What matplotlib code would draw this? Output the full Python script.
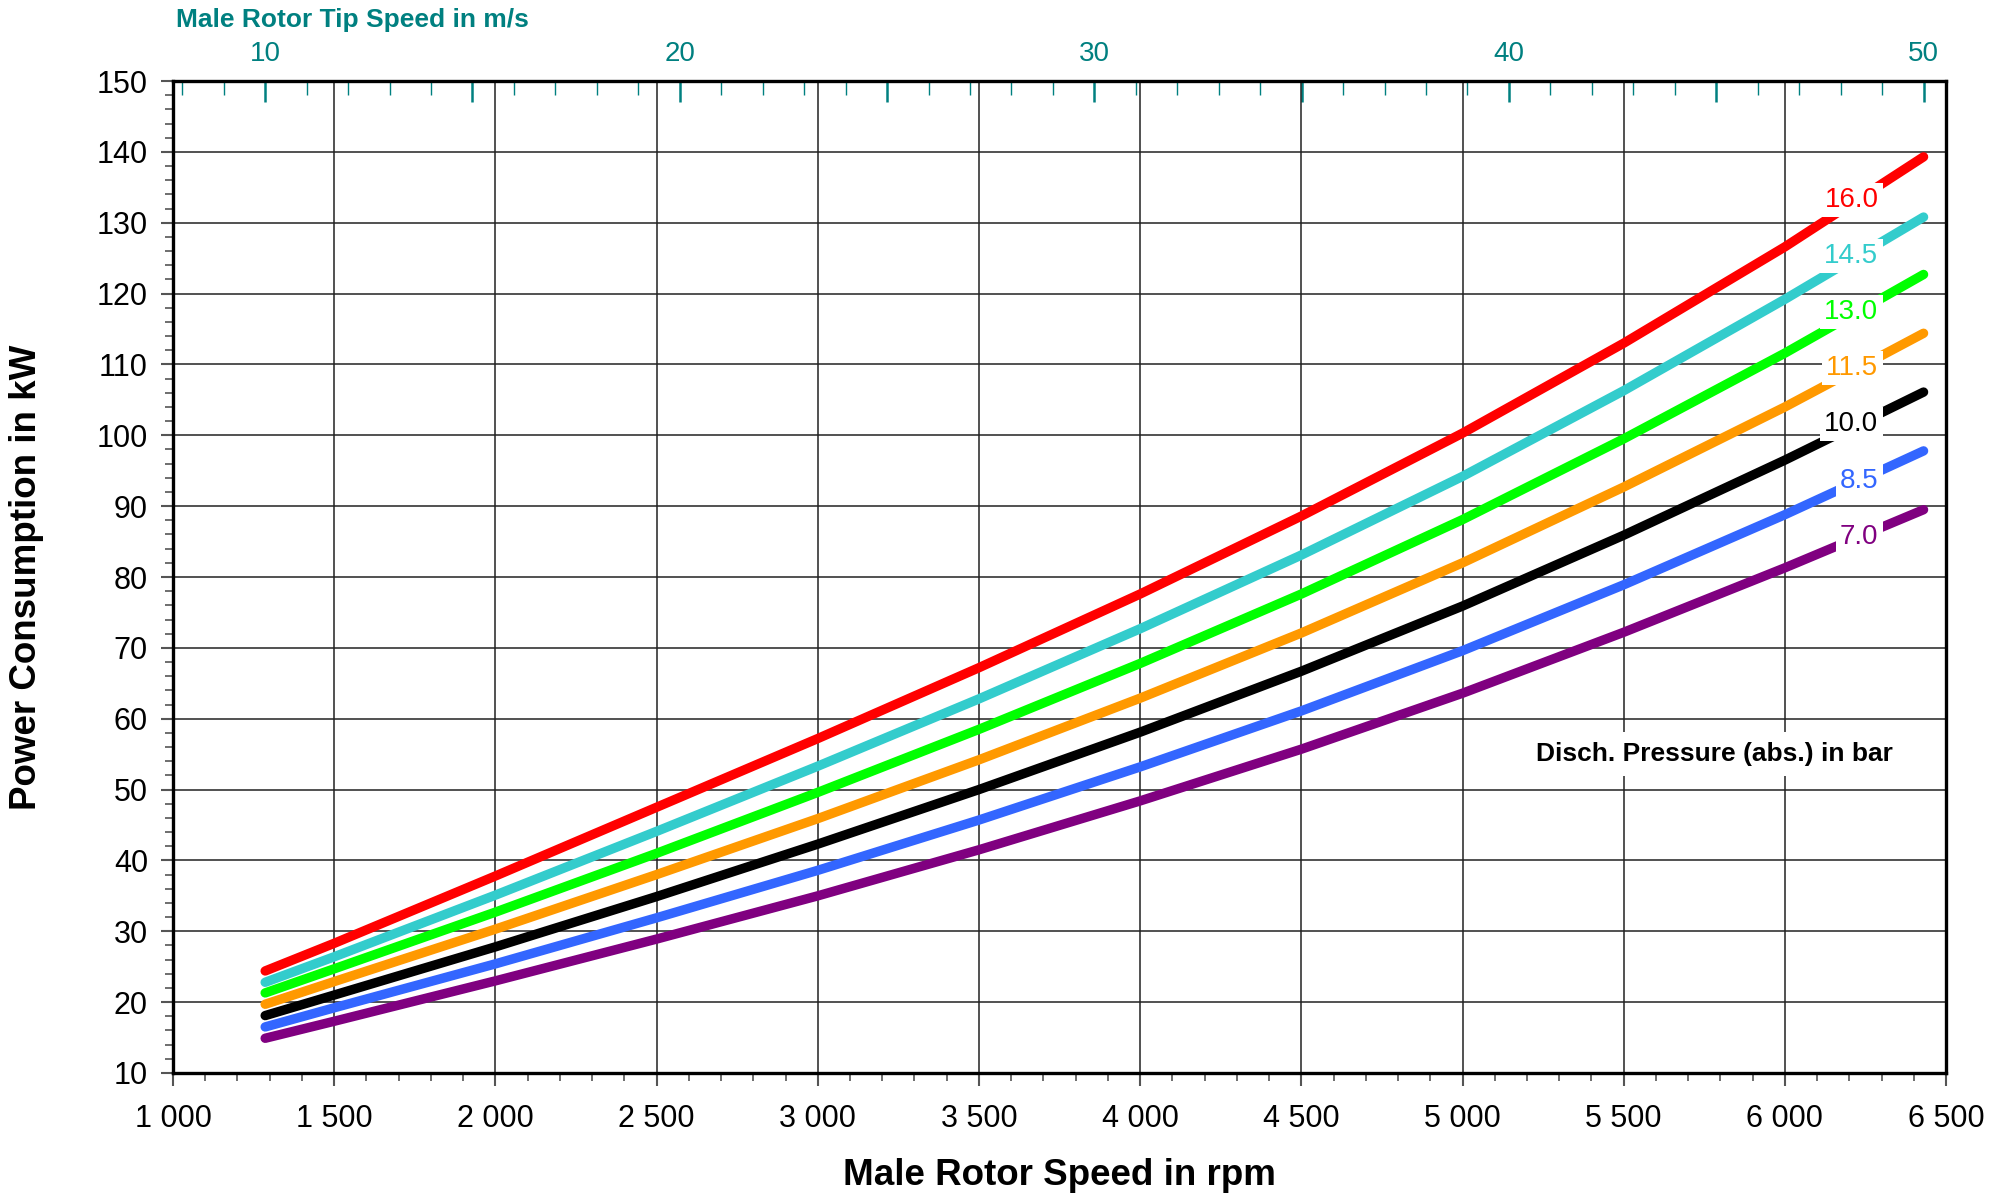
import matplotlib
matplotlib.use("Agg")
import matplotlib.pyplot as plt
from matplotlib.ticker import MultipleLocator, FuncFormatter
import numpy as np

plt.rcParams['font.family'] = ['Liberation Sans', 'DejaVu Sans']

# male rotor speed (rpm) where the curves were read
rpm = [1286, 1500, 2000, 2500, 3000, 3500, 4000, 4500, 5000, 5500, 6000, 6430]

# power consumption in kW, one list per discharge pressure (bar abs.)
p16_0 = [24.4, 28.3, 37.8, 47.5, 57.2, 67.2, 77.6, 88.6, 100.3, 113.0, 126.6, 139.3]
p14_5 = [22.8, 26.4, 35.1, 44.1, 53.3, 62.8, 72.7, 83.1, 94.2, 106.3, 119.2, 130.8]
p13_0 = [21.3, 24.7, 32.7, 41.0, 49.6, 58.5, 67.8, 77.6, 88.1, 99.5, 111.6, 122.7]
p11_5 = [19.7, 22.9, 30.3, 38.0, 45.9, 54.2, 62.9, 72.1, 82.0, 92.7, 104.0, 114.4]
p10_0 = [18.1, 21.0, 27.8, 34.9, 42.3, 50.0, 58.1, 66.7, 75.9, 85.9, 96.5, 106.1]
p8_5 = [16.5, 19.2, 25.4, 31.9, 38.6, 45.7, 53.2, 61.1, 69.6, 78.9, 88.8, 97.8]
p7_0 = [14.9, 17.3, 23.0, 28.9, 35.0, 41.5, 48.4, 55.7, 63.6, 72.2, 81.3, 89.5]

labels = ["16.0", "14.5", "13.0", "11.5", "10.0", "8.5", "7.0"]
label_y = [133.2, 125.3, 117.4, 109.5, 101.6, 93.5, 85.6]
series = [p16_0, p14_5, p13_0, p11_5, p10_0, p8_5, p7_0]
colors = ['#ff0000', '#33cccc', '#00ff00', '#ff9900', '#000000', '#3366ff', '#800080']

# rpm per m/s of tip speed
RPM_PER_MS = 128.6
teal = '#008080'

fig = plt.figure(figsize=(20.09, 11.95), dpi=100)
ax = fig.add_axes([0.0861, 0.1021, 0.8826, 0.8301])

for vals, c in zip(series, colors):
    ax.plot(rpm, vals, color=c, lw=6.8, solid_capstyle='round',
            solid_joinstyle='round', zorder=3)

for lab, ly, c in zip(labels, label_y, colors):
    ax.text(6290, ly, lab, color=c, fontsize=20, ha='right', va='center', zorder=5,
            bbox=dict(facecolor='white', edgecolor='none', pad=3))

ax.text(5780, 55.0, "Disch. Pressure (abs.) in bar", fontsize=19, fontweight='bold',
        ha='center', va='center', zorder=5,
        bbox=dict(facecolor='white', edgecolor='none', pad=7))

ax.set_xlim(1000, 6500)
ax.set_ylim(10, 150)
ax.xaxis.set_major_locator(MultipleLocator(500))
ax.xaxis.set_minor_locator(MultipleLocator(100))
ax.yaxis.set_major_locator(MultipleLocator(10))
ax.yaxis.set_minor_locator(MultipleLocator(2))
ax.xaxis.set_major_formatter(FuncFormatter(lambda v, p: f"{int(v):,}".replace(",", " ")))
ax.grid(True, which='major', color='#222222', lw=1.1, zorder=1)

ax.tick_params(which='major', direction='out', length=9, width=1.5, color='#555555',
               labelsize=22)
ax.tick_params(which='minor', direction='out', length=6, width=1.2, color='#555555')
ax.tick_params(axis='x', which='major', pad=13)
ax.tick_params(axis='y', which='major', pad=9)
for s in ax.spines.values():
    s.set_linewidth(2.4)

ax.set_xlabel("Male Rotor Speed in rpm", fontsize=26.5, fontweight='bold')
ax.xaxis.set_label_coords(0.5, -0.086)
ax.set_ylabel("Power Consumption in kW", fontsize=26.5, fontweight='bold')
ax.yaxis.set_label_coords(-0.073, 0.5)

# tip speed axis on top
top = ax.secondary_xaxis('top', functions=(lambda x: x / RPM_PER_MS, lambda v: v * RPM_PER_MS))
top.xaxis.set_major_locator(MultipleLocator(5))
top.xaxis.set_minor_locator(MultipleLocator(1))
top.xaxis.set_major_formatter(FuncFormatter(lambda v, p: f"{int(round(v))}" if round(v) % 10 == 0 else ""))
top.tick_params(which='major', direction='in', length=15, width=1.8, color=teal,
                labelcolor=teal, labelsize=20, pad=10)
top.tick_params(which='minor', direction='in', length=10, width=1.0, color=teal)
top.spines['top'].set_visible(False)

fig.text(176 / 2009, 1 - 20 / 1195, "Male Rotor Tip Speed in m/s", color=teal,
         fontsize=19, fontweight='bold', ha='left', va='center')

fig.savefig("out.png", dpi=100)
